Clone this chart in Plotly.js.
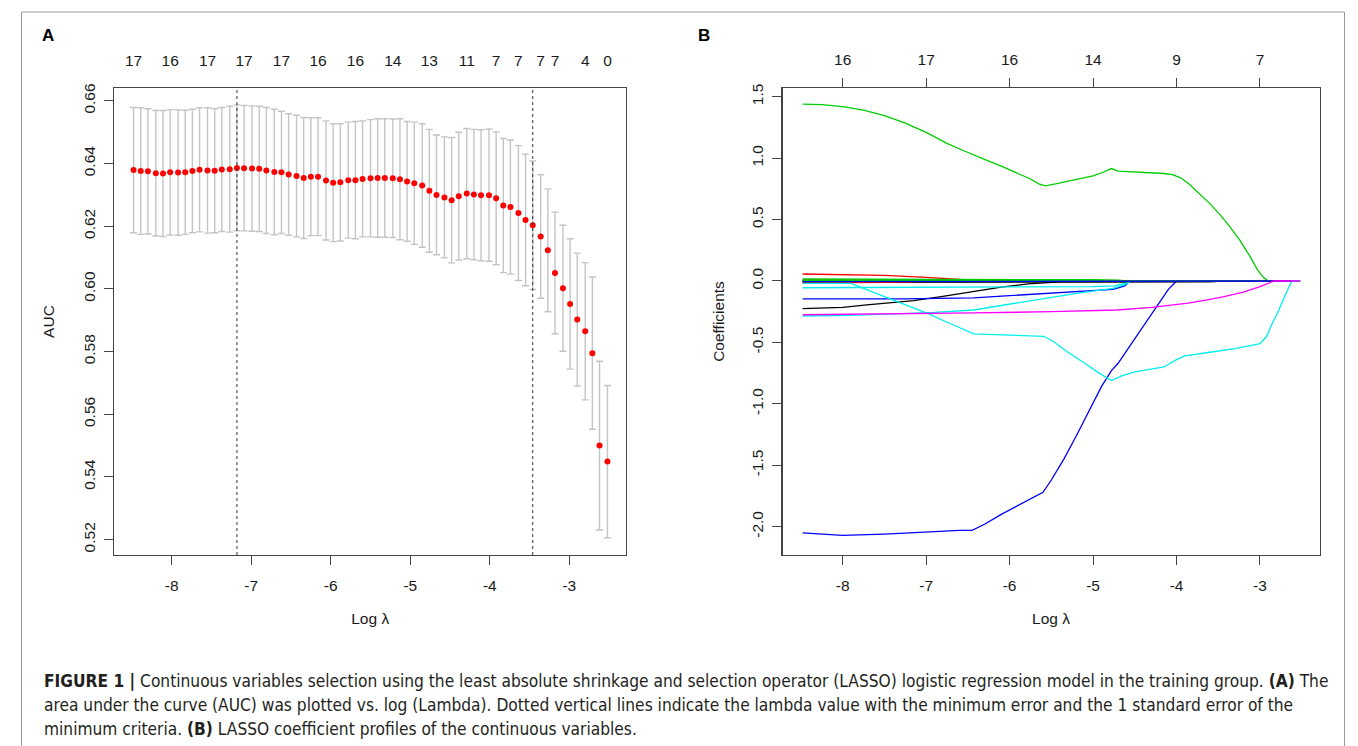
<!DOCTYPE html>
<html>
<head>
<meta charset="utf-8">
<script src="https://cdn.plot.ly/plotly-3.0.1.min.js"></script>
<style>
html,body{margin:0;padding:0;background:#fff;}
#chart{width:1358px;height:746px;}
</style>
</head>
<body>
<div id="chart"></div>
<script>
// ---------------- Panel A: cross-validated AUC ----------------
const logLambdaA = [-8.48,-8.39,-8.30,-8.20,-8.11,-8.02,-7.92,-7.83,-7.74,-7.65,
  -7.55,-7.46,-7.37,-7.27,-7.18,-7.09,-6.99,-6.90,-6.81,-6.71,
  -6.62,-6.53,-6.43,-6.34,-6.25,-6.16,-6.06,-5.97,-5.88,-5.78,
  -5.69,-5.60,-5.50,-5.41,-5.32,-5.22,-5.13,-5.04,-4.95,-4.85,
  -4.76,-4.67,-4.57,-4.48,-4.39,-4.29,-4.20,-4.11,-4.01,-3.92,
  -3.83,-3.74,-3.64,-3.55,-3.46,-3.36,-3.27,-3.18,-3.08,-2.99,
  -2.90,-2.80,-2.71,-2.62,-2.52];
const aucMean = [0.6379,0.6376,0.6375,0.6369,0.6368,0.6372,0.6371,0.6372,0.6376,0.6380,
  0.6378,0.6377,0.6381,0.6382,0.6386,0.6385,0.6384,0.6383,0.6378,0.6373,
  0.6372,0.6365,0.6360,0.6354,0.6358,0.6358,0.6346,0.6339,0.6340,0.6347,
  0.6347,0.6351,0.6353,0.6354,0.6354,0.6353,0.6350,0.6343,0.6337,0.6330,
  0.6313,0.6300,0.6292,0.6283,0.6296,0.6304,0.6301,0.6299,0.6299,0.6289,
  0.6266,0.6261,0.6242,0.6220,0.6203,0.6167,0.6123,0.6051,0.6002,0.5952,
  0.5902,0.5865,0.5795,0.5500,0.5449];
const aucSE = [0.0200,0.0202,0.0200,0.0200,0.0201,0.0200,0.0200,0.0198,0.0197,0.0198,
  0.0200,0.0198,0.0198,0.0201,0.0201,0.0200,0.0200,0.0200,0.0201,0.0200,
  0.0195,0.0194,0.0194,0.0193,0.0188,0.0188,0.0190,0.0188,0.0187,0.0185,
  0.0187,0.0185,0.0187,0.0189,0.0189,0.0189,0.0193,0.0191,0.0195,0.0197,
  0.0196,0.0191,0.0193,0.0200,0.0204,0.0208,0.0208,0.0209,0.0211,0.0212,
  0.0214,0.0214,0.0215,0.0210,0.0205,0.0197,0.0196,0.0194,0.0201,0.0208,
  0.0212,0.0219,0.0243,0.0269,0.0243];
// number of non-zero coefficients shown on the top axis (index into logLambdaA)
const nzeroIdxA = [0,5,10,15,20,25,30,35,40,45,49,52,55,57,61,64];
const nzeroLabelsA = ['17','16','17','17','17','16','16','14','13','11','7','7','7','7','4','0'];
const aucTicks = [0.52,0.54,0.56,0.58,0.60,0.62,0.64,0.66];
const aucTickText = ['0.52','0.54','0.56','0.58','0.60','0.62','0.64','0.66'];
const logTicks = [-8,-7,-6,-5,-4,-3];
const logTickText = ['-8','-7','-6','-5','-4','-3'];

// ---------------- Panel B: coefficient paths ----------------
const dfLabelsB = ['16','17','16','14','9','7'];
const greenBigX = [-8.48,-8.25,-8.0,-7.75,-7.5,-7.25,-7.0,-6.75,-6.55,-6.45,-6.3,-6.1,-5.9,-5.75,-5.65,-5.57,-5.45,-5.3,-5.15,-5.0,-4.88,-4.78,-4.7,-4.55,-4.35,-4.15,-4.05,-3.95,-3.85,-3.72,-3.6,-3.48,-3.36,-3.24,-3.12,-3.03,-2.96,-2.9,-2.52];
const greenBigY = [1.44,1.435,1.42,1.39,1.345,1.285,1.21,1.12,1.06,1.03,0.99,0.935,0.875,0.83,0.79,0.775,0.79,0.81,0.83,0.855,0.885,0.915,0.895,0.89,0.885,0.875,0.865,0.84,0.79,0.71,0.63,0.54,0.44,0.33,0.2,0.09,0.03,0,0];
const blueBigX = [-8.48,-8.2,-8.0,-7.5,-7.0,-6.6,-6.45,-6.3,-6.1,-5.9,-5.7,-5.6,-5.5,-5.35,-5.2,-5.05,-4.9,-4.78,-4.7,-4.55,-4.4,-4.25,-4.1,-4.0,-2.52];
const blueBigY = [-2.05,-2.06,-2.07,-2.06,-2.04,-2.03,-2.03,-1.98,-1.90,-1.83,-1.76,-1.72,-1.62,-1.45,-1.26,-1.06,-0.86,-0.73,-0.67,-0.52,-0.37,-0.22,-0.07,0,0];
const cyanDipX = [-8.48,-7.9,-7.6,-7.3,-7.0,-6.7,-6.43,-6.0,-5.59,-5.48,-5.3,-5.1,-4.95,-4.78,-4.65,-4.5,-4.3,-4.15,-4.0,-3.9,-3.6,-3.3,-3.0,-2.92,-2.85,-2.79,-2.7,-2.62,-2.52];
const cyanDipY = [-0.02,-0.02,-0.10,-0.18,-0.26,-0.35,-0.43,-0.44,-0.45,-0.49,-0.58,-0.67,-0.74,-0.81,-0.77,-0.74,-0.72,-0.70,-0.64,-0.61,-0.58,-0.55,-0.51,-0.45,-0.34,-0.26,-0.12,0,0];
const cyanLowX = [-8.48,-7.9,-7.3,-6.9,-6.43,-6.0,-5.57,-5.2,-4.76,-4.62,-4.55,-2.52];
const cyanLowY = [-0.285,-0.28,-0.265,-0.255,-0.236,-0.19,-0.141,-0.10,-0.06,-0.03,0,0];
const cyanTopX = [-8.48,-7.0,-6.0,-5.0,-4.75,-4.62,-4.58,-2.52];
const cyanTopY = [-0.055,-0.052,-0.05,-0.046,-0.04,-0.02,0,0];
const magentaX = [-8.48,-7.5,-6.43,-5.5,-4.71,-4.3,-3.86,-3.6,-3.43,-3.2,-3.0,-2.83,-2.52];
const magentaY = [-0.275,-0.27,-0.26,-0.25,-0.236,-0.215,-0.18,-0.15,-0.128,-0.09,-0.045,0,0];
const magenta2X = [-8.48,-7.0,-6.5,-2.52];
const magenta2Y = [-0.01,-0.005,0,0];
const blueSmallX = [-8.48,-7.28,-6.43,-5.57,-5.0,-4.76,-4.62,-4.56,-2.52];
const blueSmallY = [-0.145,-0.145,-0.137,-0.10,-0.08,-0.068,-0.04,0,0];
const blue3X = [-8.48,-6.0,-5.5,-2.52];
const blue3Y = [-0.005,-0.003,0,0];
const blackBigX = [-8.48,-8.0,-7.71,-7.15,-6.8,-6.43,-6.1,-5.78,-5.57,-5.4,-3.6,-3.4,-2.52];
const blackBigY = [-0.225,-0.215,-0.195,-0.16,-0.125,-0.087,-0.05,-0.024,-0.012,-0.008,-0.006,0,0];
const black2X = [-8.48,-6.0,-4.5,-3.6,-3.4,-2.52];
const black2Y = [-0.012,-0.01,-0.008,-0.006,0,0];
const black3X = [-8.48,-7.0,-6.6,-2.52];
const black3Y = [0.003,0.002,0,0];
const redX = [-8.48,-8.0,-7.5,-7.0,-6.6,-6.3,-2.52];
const redY = [0.057,0.053,0.045,0.03,0.012,0,0];
const red2X = [-8.48,-7.0,-6.0,-5.5,-2.52];
const red2Y = [0.008,0.006,0.003,0,0];
const red3X = [-8.48,-7.5,-6.8,-2.52];
const red3Y = [-0.015,-0.012,0,0];
const greenSmallX = [-8.48,-6.0,-5.0,-4.7,-4.6,-2.52];
const greenSmallY = [0.016,0.014,0.01,0.006,0,0];
const green3X = [-8.48,-6.0,-4.6,-4.4,-2.52];
const green3Y = [0.004,0.004,0.003,0,0];
const coefTicks = [-2.0,-1.5,-1.0,-0.5,0.0,0.5,1.0,1.5];
const coefTickText = ['-2.0','-1.5','-1.0','-0.5','0.0','0.5','1.0','1.5'];

// colours (R default palette)
const C = {black:'#000000', red:'#ff0000', green:'#00cd00', blue:'#0000ff', cyan:'#00eeee', magenta:'#ff00ff'};

// lambda.min and lambda.1se from the CV curve
let iMin = 0;
aucMean.forEach((v,i)=>{ if(v > aucMean[iMin]) iMin = i; });
const thr = aucMean[iMin] - aucSE[iMin];
let i1se = iMin;
aucMean.forEach((v,i)=>{ if(v >= thr && i > i1se) i1se = i; });
const lamMin = logLambdaA[iMin], lam1se = logLambdaA[i1se];

const W = 1358, H = 746;
const px = v => v / W;
const py = v => 1 - v / H;

const FONT = 'Liberation Sans, Arial, Helvetica, sans-serif';
const CAPFONT = 'DejaVu Sans Condensed, DejaVu Sans, sans-serif';
const tickFont = {family: FONT, size: 15.5, color: '#1a1a1a'};
const titleFont = {family: FONT, size: 15.5, color: '#1a1a1a'};

const traces = [];
traces.push({
  x: logLambdaA, y: aucMean, xaxis: 'x', yaxis: 'y', type: 'scatter', mode: 'markers',
  marker: {color: '#ff0000', size: 6},
  error_y: {type: 'data', array: aucSE, visible: true, color: '#c4c4c4', thickness: 1.4, width: 3.5},
  hoverinfo: 'skip', showlegend: false
});
// empty trace that anchors the top axis of A
traces.push({x: nzeroIdxA.map(i=>logLambdaA[i]), y: nzeroIdxA.map(()=>null), xaxis:'x2', yaxis:'y', mode:'markers', showlegend:false, hoverinfo:'skip'});

const paths = [
  [blackBigX, blackBigY, C.black],
  [redX, redY, C.red],
  [greenBigX, greenBigY, C.green],
  [blueBigX, blueBigY, C.blue],
  [cyanTopX, cyanTopY, C.cyan],
  [magenta2X, magenta2Y, C.magenta],
  [black2X, black2Y, C.black],
  [red2X, red2Y, C.red],
  [greenSmallX, greenSmallY, C.green],
  [blueSmallX, blueSmallY, C.blue],
  [cyanLowX, cyanLowY, C.cyan],
  [black3X, black3Y, C.black],
  [red3X, red3Y, C.red],
  [green3X, green3Y, C.green],
  [blue3X, blue3Y, C.blue],
  [cyanDipX, cyanDipY, C.cyan],
  [magentaX, magentaY, C.magenta]
];
paths.forEach(p => traces.push({
  x: p[0], y: p[1], xaxis: 'x3', yaxis: 'y3', type: 'scatter', mode: 'lines',
  line: {color: p[2], width: 1.3}, hoverinfo: 'skip', showlegend: false
}));
traces.push({x: logTicks, y: logTicks.map(()=>null), xaxis:'x4', yaxis:'y3', mode:'markers', showlegend:false, hoverinfo:'skip'});

const domXA = [px(114.4), px(626)];
const domXB = [px(782.5), px(1319.5)];
const domY = [py(555), py(88)];
const rangeX = [-8.721, -2.287];

const baseX = {
  range: rangeX, tickvals: logTicks, ticktext: logTickText, ticks: 'outside', ticklen: 9,
  tickwidth: 1, tickcolor: '#444', showline: true, linecolor: '#444', linewidth: 1.2, mirror: true,
  showgrid: false, zeroline: false, tickfont: tickFont, ticklabelstandoff: 7, fixedrange: true
};
const baseY = {
  ticks: 'outside', ticklen: 9, tickwidth: 1, tickcolor: '#444', tickangle: -90,
  showline: true, linecolor: '#444', linewidth: 1.2, mirror: true,
  showgrid: false, zeroline: false, tickfont: tickFont, ticklabelstandoff: 3, fixedrange: true
};

const layout = {
  width: W, height: H, margin: {l:0, r:0, t:0, b:0},
  paper_bgcolor: '#ffffff', plot_bgcolor: '#ffffff', showlegend: false,
  font: {family: FONT, color: '#1a1a1a'},
  xaxis: Object.assign({}, baseX, {domain: domXA, anchor: 'y',
    title: {text: 'Log λ', font: titleFont, standoff: 20}}),
  yaxis: Object.assign({}, baseY, {domain: domY, anchor: 'x', range: [0.5151, 0.6641],
    tickvals: aucTicks, ticktext: aucTickText,
    title: {text: 'AUC', font: titleFont, standoff: 22}}),
  xaxis2: {overlaying: 'x', anchor: 'y', side: 'top', range: rangeX,
    tickvals: nzeroIdxA.map(i=>logLambdaA[i]), ticktext: nzeroLabelsA,
    ticks: '', showline: false, showgrid: false, zeroline: false, tickfont: tickFont, ticklabelstandoff: 18, fixedrange: true},
  xaxis3: Object.assign({}, baseX, {domain: domXB, anchor: 'y3',
    title: {text: 'Log λ', font: titleFont, standoff: 20}}),
  yaxis3: Object.assign({}, baseY, {domain: domY, anchor: 'x3', range: [-2.2303, 1.5708],
    tickvals: coefTicks, ticktext: coefTickText,
    title: {text: 'Coefficients', font: titleFont, standoff: 20}}),
  xaxis4: {overlaying: 'x3', anchor: 'y3', side: 'top', range: rangeX,
    tickvals: logTicks, ticktext: dfLabelsB, ticks: 'outside', ticklen: 9, tickwidth: 1, tickcolor: '#444',
    showline: false, showgrid: false, zeroline: false, tickfont: tickFont, ticklabelstandoff: 7, fixedrange: true},
  shapes: [
    {type:'line', xref:'x', yref:'y domain', x0: lamMin, x1: lamMin, y0: 0, y1: 1, line:{color:'#333', width:1, dash:'dot'}},
    {type:'line', xref:'x', yref:'y domain', x0: lam1se, x1: lam1se, y0: 0, y1: 1, line:{color:'#333', width:1, dash:'dot'}},
    {type:'rect', xref:'paper', yref:'paper', x0: px(21.5), x1: px(1344.5), y0: -0.05, y1: py(12), line:{color:'#9a9a9a', width:1}, fillcolor:'rgba(0,0,0,0)'}
  ],
  annotations: [
    {text:'<b>A</b>', xref:'paper', yref:'paper', x: px(40), y: py(35), xanchor:'left', yanchor:'middle', showarrow:false,
     font:{family: FONT, size: 17, color:'#000'}},
    {text:'<b>B</b>', xref:'paper', yref:'paper', x: px(696), y: py(35), xanchor:'left', yanchor:'middle', showarrow:false,
     font:{family: FONT, size: 17, color:'#000'}},
    {text:'<b>FIGURE 1 |</b> Continuous variables selection using the least absolute shrinkage and selection operator (LASSO) logistic regression model in the training group. <b>(A)</b> The',
     xref:'paper', yref:'paper', x: px(42), y: py(681), xanchor:'left', yanchor:'middle', showarrow:false, align:'left',
     font:{family: CAPFONT, size: 17.2, color:'#231f20'}},
    {text:'area under the curve (AUC) was plotted vs. log (Lambda). Dotted vertical lines indicate the lambda value with the minimum error and the 1 standard error of the',
     xref:'paper', yref:'paper', x: px(42), y: py(705), xanchor:'left', yanchor:'middle', showarrow:false, align:'left',
     font:{family: CAPFONT, size: 17.2, color:'#231f20'}},
    {text:'minimum criteria. <b>(B)</b> LASSO coefficient profiles of the continuous variables.',
     xref:'paper', yref:'paper', x: px(42), y: py(729), xanchor:'left', yanchor:'middle', showarrow:false, align:'left',
     font:{family: CAPFONT, size: 17.2, color:'#231f20'}}
  ]
};

Plotly.newPlot('chart', traces, layout, {staticPlot: true, displayModeBar: false});
</script>
</body>
</html>
